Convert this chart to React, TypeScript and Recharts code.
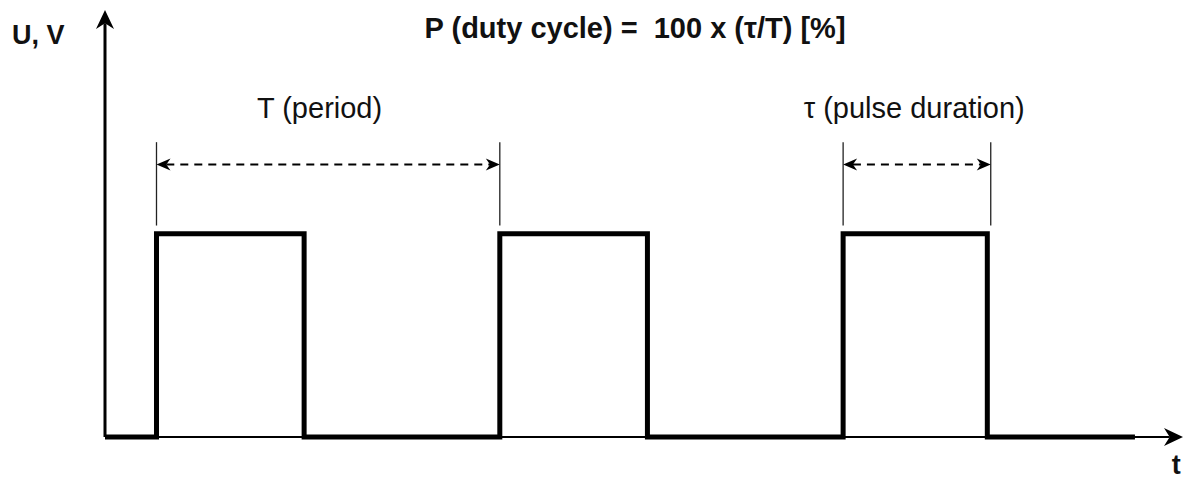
import { LineChart, Line, XAxis, YAxis, ReferenceLine, ReferenceDot } from 'recharts';

// square wave: times where the level changes, and the level after each
const edgeTimes = [0, 1.5, 5.8, 11.5, 15.8, 21.5, 25.7, 30];
const levels = [0, 1, 0, 1, 0, 1, 0, 0];

// annotation markers (period and pulse duration)
const periodStart = 1.5;
const periodEnd = 11.5;
const pulseStart = 21.5;
const pulseEnd = 25.8;
const markerLow = 1.04;
const markerHigh = 1.45;
const markerArrowY = 1.34;

const xMax = 31.4;
const yMax = 2.1;

const labels = [
	{ text: 'P (duty cycle) =  100 x (τ/T) [%]', x: 15.44, y: 1.963, bold: true, anchor: 'middle', size: 29 },
	{ text: 'U, V', x: -2.71, y: 1.934, bold: true, anchor: 'start', size: 27 },
	{ text: 't', x: 31.2, y: -0.182, bold: true, anchor: 'middle', size: 27 },
	{ text: 'T (period)', x: 6.25, y: 1.569, bold: false, anchor: 'middle', size: 29 },
	{ text: 'τ (pulse duration)', x: 23.57, y: 1.569, bold: false, anchor: 'middle', size: 29 },
];

const data = edgeTimes.map((t, i) => ({ t, v: levels[i] }));

const FONT = '"Liberation Sans", Arial, Helvetica, sans-serif';

function head(x: number, y: number, ang: number, len: number, half: number) {
	const c = Math.cos(ang);
	const s = Math.sin(ang);
	const bx = x - c * len;
	const by = y - s * len;
	const nx = x - c * len * 0.7;
	const ny = y - s * len * 0.7;
	return `M${x},${y} L${bx - s * half},${by + c * half} L${nx},${ny} L${bx + s * half},${by - c * half} Z`;
}

const arrowLine =
	(both: boolean, width: number, len: number, half: number, dash?: string) =>
	(props: any) => {
		const { x1, y1, x2, y2 } = props;
		const ang = Math.atan2(y2 - y1, x2 - x1);
		const c = Math.cos(ang);
		const s = Math.sin(ang);
		const sx = both ? x1 + c * len * 0.7 : x1;
		const sy = both ? y1 + s * len * 0.7 : y1;
		const ex = x2 - c * len * 0.7;
		const ey = y2 - s * len * 0.7;
		return (
			<g>
				<line x1={sx} y1={sy} x2={ex} y2={ey} stroke='#000' strokeWidth={width} strokeDasharray={dash} />
				<path d={head(x2, y2, ang, len, half)} fill='#000' />
				{both && <path d={head(x1, y1, ang + Math.PI, len, half)} fill='#000' />}
			</g>
		);
	};

const textShape = (l: (typeof labels)[number]) => (props: any) => (
	<text
		x={props.cx}
		y={props.cy}
		textAnchor={l.anchor}
		fontFamily={FONT}
		fontSize={l.size}
		fontWeight={l.bold ? 700 : 400}
		fill='#111'
		style={{ whiteSpace: 'pre' }}
	>
		{l.text}
	</text>
);

export default function App() {
	return (
		<div style={{ position: 'fixed', left: 0, top: 0, width: 1183, height: 480, background: '#fff' }}>
			<LineChart width={1183} height={480} data={data} margin={{ top: 10, right: 0, left: 105, bottom: 43 }}>
				<XAxis dataKey='t' type='number' domain={[0, xMax]} hide />
				<YAxis type='number' domain={[0, yMax]} hide />

				{/* markers */}
				{[periodStart, periodEnd, pulseStart, pulseEnd].map((x) => (
					<ReferenceLine
						key={'m' + x}
						segment={[
							{ x, y: markerLow },
							{ x, y: markerHigh },
						]}
						stroke='#222'
						strokeWidth={1.3}
						ifOverflow='visible'
					/>
				))}
				<ReferenceLine
					segment={[
						{ x: periodStart, y: markerArrowY },
						{ x: periodEnd, y: markerArrowY },
					]}
					ifOverflow='visible'
					shape={arrowLine(true, 2, 14, 6, '8 6')}
				/>
				<ReferenceLine
					segment={[
						{ x: pulseStart, y: markerArrowY },
						{ x: pulseEnd, y: markerArrowY },
					]}
					ifOverflow='visible'
					shape={arrowLine(true, 2, 14, 6, '8 6')}
				/>

				<Line
					dataKey='v'
					type='stepAfter'
					stroke='#000'
					strokeWidth={5}
					strokeLinejoin='miter'
					strokeLinecap='butt'
					dot={false}
					activeDot={false}
					isAnimationActive={false}
				/>

				{/* axes with arrow heads */}
				<ReferenceLine
					segment={[
						{ x: 0, y: 0 },
						{ x: xMax, y: 0 },
					]}
					ifOverflow='visible'
					shape={arrowLine(false, 2, 19, 9)}
				/>
				<ReferenceLine
					segment={[
						{ x: 0, y: 0 },
						{ x: 0, y: yMax },
					]}
					ifOverflow='visible'
					shape={arrowLine(false, 3, 19, 9)}
				/>

				{labels.map((l) => (
					<ReferenceDot key={l.text} x={l.x} y={l.y} r={0} ifOverflow='visible' shape={textShape(l)} />
				))}
			</LineChart>
		</div>
	);
}
